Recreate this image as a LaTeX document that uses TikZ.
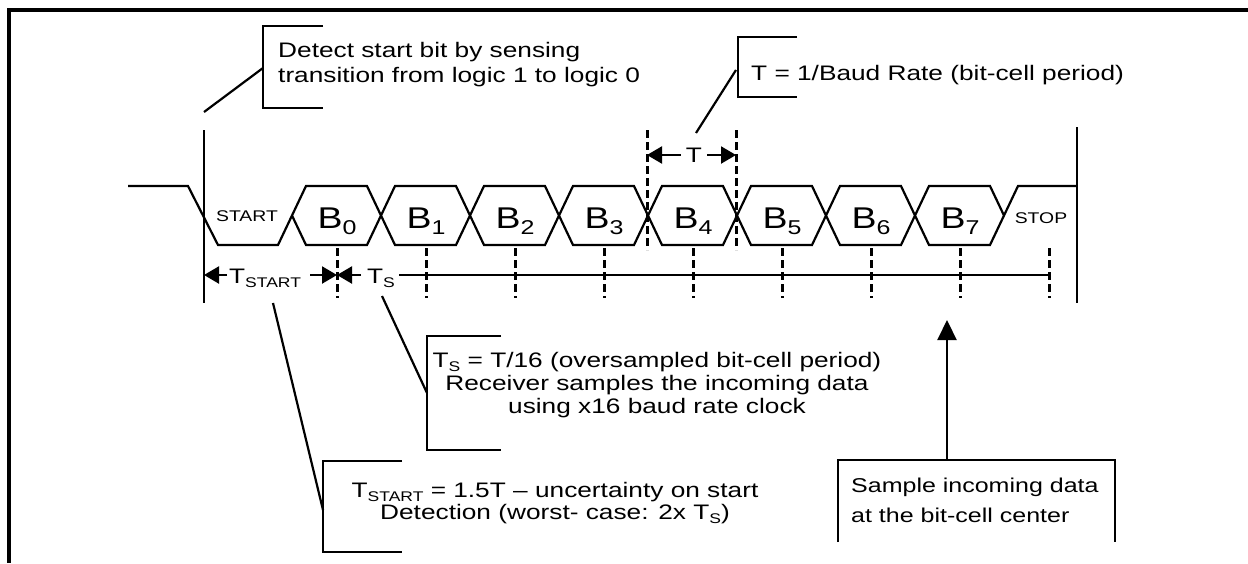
\documentclass[tikz,border=0pt]{standalone}
\usepackage{fontspec}
\setmainfont{Liberation Sans}[FakeStretch=1.25]
\usetikzlibrary{arrows.meta}
\newcommand{\bsub}[1]{\raisebox{-6pt}{\fontsize{20}{20}\selectfont #1}}
\newcommand{\tsub}[1]{\raisebox{-4pt}{\fontsize{14}{14}\selectfont #1}}
\begin{document}
\begin{tikzpicture}[x=1pt,y=-1pt,
  wave/.style={line width=2.2pt, line join=miter},
  solidln/.style={line width=2.2pt},
  dashln/.style={line width=3pt, dash pattern=on 8pt off 4pt},
  frameln/.style={line width=3.2pt},
  note/.style={inner sep=0pt, font=\fontsize{21}{25}\selectfont},
  bitlbl/.style={inner sep=0pt, anchor=base, font=\fontsize{30}{30}\selectfont},
  edgelbl/.style={inner sep=0pt, font=\fontsize{15.5}{15.5}\selectfont},
  dimtip/.style={-{Triangle[length=15pt,width=17pt]}, line width=2.2pt},
  bigtip/.style={-{Triangle[length=20pt,width=19pt]}, line width=2.2pt},
]
\useasboundingbox (0,0) rectangle (1248,563);
% frame (top and left edges)
\draw[frameln] (1248,10) -- (9,10) -- (9,563);

% waveform
\draw[wave] (128,186) -- (188,186) -- (218,245) -- (278,245) -- (306,186) -- (367,186)
  -- (395,245) -- (456,245) -- (484,186) -- (545,186) -- (573,245) -- (634,245)
  -- (662,186) -- (723,186) -- (751,245) -- (812,245) -- (840,186) -- (901,186)
  -- (929,245) -- (990,245) -- (1018,186) -- (1077,186);
\draw[wave] (292,215.5) -- (306,245) -- (367,245) -- (395,186) -- (456,186) -- (484,245)
  -- (545,245) -- (573,186) -- (634,186) -- (662,245) -- (723,245) -- (751,186)
  -- (812,186) -- (840,245) -- (901,245) -- (929,186) -- (990,186) -- (1004,215.5);

% bit labels
\node[edgelbl] (start) at (247,216) {START};
\foreach \k in {0,...,7} {
  \node[bitlbl] (b\k) at ({337+89*\k},228) {B\bsub{\k}};
}
\node[edgelbl] (stop) at (1041,218) {STOP};

% vertical solid boundaries
\coordinate (vlTop) at (204,130);
\coordinate (vlBot) at (204,303);
\coordinate (vrTop) at (1077,127);
\coordinate (vrBot) at (1077,303);
\draw[solidln] (vlTop) -- (vlBot);
\draw[solidln] (vrTop) -- (vrBot);

% sample instants (dashed)
\foreach \k in {0,...,8} {
  \draw[dashln] ({337+89*\k},248) -- ({337+89*\k},298);
}
% bit period dashed markers
\coordinate (p4Top) at (647,130);
\coordinate (p4Bot) at (647,250);
\coordinate (p5Top) at (736,130);
\coordinate (p5Bot) at (736,250);
\draw[dashln] (p4Top) -- (p4Bot);
\draw[dashln] (p5Top) -- (p5Bot);

% T dimension
\node[note] (tlbl) at (694,155) {T};
\draw[dimtip] ([xshift=-5pt]tlbl.west) -- (tlbl.west -| p4Top);
\draw[dimtip] ([xshift=5pt]tlbl.east) -- (tlbl.east -| p5Top);

% Tstart / Ts dimension line
\coordinate (dimy) at (0,275);
\coordinate (vlDim) at (204,275);
\coordinate (b0Dim) at (337,275);
\coordinate (stopDim) at (1049,275);
\node[note, anchor=base west] (tstartlbl) at (229,283) {T\tsub{START}};
\node[note, anchor=base west] (tslbl) at (367,283) {T\tsub{S}};
\draw[dimtip] ([xshift=-2pt]tstartlbl.west |- dimy) -- (vlDim);
\draw[dimtip] ([xshift=9pt]tstartlbl.east |- dimy) -- (b0Dim);
\draw[dimtip] ([xshift=-6pt]tslbl.west |- dimy) -- (b0Dim);
\draw[solidln] ([xshift=4pt]tslbl.east |- dimy) -- (stopDim);

% annotation 1: detect start bit
\node[note, anchor=north west, align=left] (detect) at (278,42) {Detect start bit by sensing\\transition from logic 1 to logic 0};
\draw[solidln] (323,26) -- (263,26) -- (263,108) -- (323,108);
\coordinate (detTip) at (204,112);
\draw[solidln] (263,68) -- (detTip);

% annotation 2: T definition
\node[note, anchor=base west] (tdef) at (751,80) {T = 1/Baud Rate (bit-cell period)};
\draw[solidln] (797,37) -- (738,37) -- (738,97) -- (797,97);
\coordinate (tdefTip) at (696,133);
\draw[solidln] (736,70) -- (tdefTip);

% annotation 3: Ts definition
\node[note, anchor=north, align=center, font=\fontsize{21}{23}\selectfont] (tsnote) at (657,352)
  {T\tsub{S} = T/16 (oversampled bit-cell period)\\Receiver samples the incoming data\\using x16 baud rate clock};
\draw[solidln] (501,336) -- (427,336) -- (427,450) -- (501,450);
\coordinate (tsTip) at (382,296);
\draw[solidln] (tsTip) -- (427,393);

% annotation 4: Tstart definition
\node[note, anchor=north, align=center, font=\fontsize{21}{22}\selectfont] (tstartnote) at (555,482)
  {T\tsub{START} = 1.5T – uncertainty on start\\Detection (worst- case: 2x T\tsub{S})};
\draw[solidln] (402,461) -- (323,461) -- (323,552) -- (402,552);
\coordinate (tstartTip) at (273,303);
\draw[solidln] (tstartTip) -- (323,510);

% annotation 5: sample at center
\node[note, anchor=north west, align=left, font=\fontsize{20}{30}\selectfont] (samplenote) at (851,478)
  {Sample incoming data\\at the bit-cell center};
\draw[solidln] (838,542) -- (838,460) -- (1115,460) -- (1115,542);
\coordinate (sampleBase) at (947,460);
\coordinate (sampleTip) at (947,320);
\draw[bigtip] (sampleBase) -- (sampleTip);
\end{tikzpicture}
\end{document}
